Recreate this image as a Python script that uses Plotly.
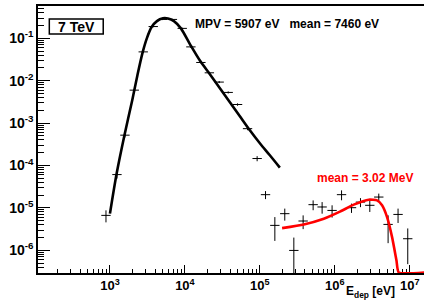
import plotly.graph_objects as go

# ---------------- data ----------------
# low-energy histogram (Landau part)
lo_x = [885, 1240, 1585, 2110, 2780, 3780, 5010, 6810, 9210, 12020, 16340,
        21200, 28650, 37800, 50400, 68500, 92000]
lo_y = [6.65e-6, 6.1e-5, 5.2e-4, 6.0e-3, 0.048, 0.19, 0.28, 0.28, 0.172, 0.063,
        0.027, 0.0154, 9.3e-3, 5.3e-3, 2.75e-3, 7.4e-4, 1.46e-4]
lo_err = [2.1e-6, 1.2e-5, 6e-5, 4e-4, 2.5e-3, 8e-3, 0.01, 0.01, 0.007, 0.003,
          0.0013, 0.0008, 0.0005, 0.0003, 0.00018, 0.00006, 0.00002]

# high-energy histogram
hi_x = [1.19e5, 1.585e5, 2.15e5, 2.84e5, 3.78e5, 5.14e5, 6.77e5, 9.2e5, 1.23e6,
        1.67e6, 2.2e6, 2.93e6, 3.86e6, 5.14e6, 6.98e6, 9.4e6]
hi_y = [2.05e-5, 3.86e-6, 7.3e-6, 9.9e-7, 4.9e-6, 1.19e-5, 1.05e-5, 8.7e-6,
        2.05e-5, 1.01e-5, 1.37e-5, 1.15e-5, 1.8e-5, 4.07e-6, 7.0e-6, 1.87e-6]
hi_err = [4.4e-6, 2.2e-6, 2.3e-6, 1.0e-6, 1.75e-6, 3.1e-6, 3.2e-6, 2.8e-6,
          5.4e-6, 2.5e-6, 3.3e-6, 3.5e-6, 3.7e-6, 2.6e-6, 2.6e-6, 1.4e-6]

# bin half width in decades
bin_half_dec = 0.0625

# black fit curve (Landau)
fit_x = [1000, 1228, 1561, 1983, 2326, 2729, 3113, 3597, 4234, 5090, 5934, 7135,
         8844, 11660, 15850, 21540, 29290, 39810, 54120, 73560, 100000, 135900, 184800]
fit_y = [7.3e-6, 6.44e-5, 5.18e-4, 3.47e-3, 0.01355, 0.0467, 0.1016, 0.185, 0.256,
         0.297, 0.294, 0.256, 0.172, 0.0733, 0.0299, 0.01432, 6.68e-3, 3.12e-3,
         1.455e-3, 6.79e-4, 3.35e-4, 1.74e-4, 8.9e-5]

# red fit curve
red_x = [1.98e5, 3.86e5, 7.13e5, 1.19e6, 1.79e6, 2.84e6, 3.66e6, 4.27e6, 4.98e6,
         5.81e6, 6.65e6, 7.13e6, 1.6e7]
red_y = [3.33e-6, 4.07e-6, 5.56e-6, 8.26e-6, 1.19e-5, 1.56e-5, 1.5e-5, 1.15e-5,
         6.07e-6, 2.04e-6, 5.74e-7, 3.0e-7, 3.0e-7]

# tick labels
x_tick_vals = [1e3, 1e4, 1e5, 1e6, 1e7]
x_tick_text = ["10<sup>3</sup>", "10<sup>4</sup>", "10<sup>5</sup>",
               "10<sup>6</sup>", "10<sup>7</sup>"]
y_tick_vals = [1e-6, 1e-5, 1e-4, 1e-3, 1e-2, 1e-1]
y_tick_text = ["10<sup>-6</sup>", "10<sup>-5</sup>", "10<sup>-4</sup>",
               "10<sup>-3</sup>", "10<sup>-2</sup>", "10<sup>-1</sup>"]

label_box = "7 TeV"
label_landau = "MPV = 5907 eV   mean = 7460 eV"
label_red = "mean = 3.02 MeV"
label_xtitle = "E<sub>dep</sub> [eV]"

# ---------------- figure ----------------
FONT = "Liberation Sans"
fac = 10 ** bin_half_dec


def xerr(xs):
    plus = [x * (fac - 1) for x in xs]
    minus = [x * (1 - 1 / fac) for x in xs]
    return plus, minus


fig = go.Figure()

for xs, ys, es in [(lo_x, lo_y, lo_err), (hi_x, hi_y, hi_err)]:
    p, m = xerr(xs)
    fig.add_trace(go.Scatter(
        x=xs, y=ys, mode="markers",
        marker=dict(size=1, color="black"),
        error_y=dict(type="data", array=es, visible=True, color="black",
                     thickness=1, width=0),
        error_x=dict(type="data", array=p, arrayminus=m, symmetric=False,
                     visible=True, color="black", thickness=1, width=0),
        showlegend=False, hoverinfo="skip"))

fig.add_trace(go.Scatter(x=fit_x, y=fit_y, mode="lines",
                         line=dict(color="black", width=2.6, shape="spline",
                                   smoothing=0.8),
                         showlegend=False, hoverinfo="skip"))
fig.add_trace(go.Scatter(x=red_x, y=red_y, mode="lines",
                         line=dict(color="#ff0000", width=2.6, shape="spline",
                                   smoothing=0.5),
                         showlegend=False, hoverinfo="skip"))

minor_vals = [k * 10 ** d for d in range(-8, 8) for k in range(2, 10)]

fig.update_layout(
    width=428, height=305,
    margin=dict(l=38, r=4, t=6, b=32),
    paper_bgcolor="white", plot_bgcolor="white",
    showlegend=False,
    xaxis=dict(type="log", range=[2.04, 7.19], tickmode="array",
               tickvals=x_tick_vals, ticktext=x_tick_text, automargin=False,
               ticks="inside", ticklen=8, tickwidth=1, tickcolor="black",
               minor=dict(ticks="inside", ticklen=4, tickwidth=1,
                          tickcolor="black", tickmode="array",
                          tickvals=minor_vals, showgrid=False),
               showline=True, linecolor="black", linewidth=1.5, mirror=True,
               showgrid=False, zeroline=False, layer="below traces",
               tickfont=dict(family=FONT, size=13, color="black", weight="bold")),
    yaxis=dict(type="log", range=[-6.537, -0.236], tickmode="array",
               tickvals=y_tick_vals, ticktext=y_tick_text, automargin=False,
               ticks="inside", ticklen=12, tickwidth=1, tickcolor="black",
               minor=dict(ticks="inside", ticklen=6, tickwidth=1,
                          tickcolor="black", tickmode="array",
                          tickvals=minor_vals, showgrid=False),
               showline=True, linecolor="black", linewidth=1.5,
               showgrid=False, zeroline=False,
               tickfont=dict(family=FONT, size=14, color="black", weight="bold")),
)

fig.add_shape(type="rect", xref="paper", yref="paper",
              x0=0.0293, x1=0.169, y0=0.895, y1=0.951,
              line=dict(color="black", width=1.5), fillcolor="white",
              layer="above")

fig.add_annotation(text=label_box, xref="paper", yref="paper", x=0.099, y=0.923,
                   xanchor="center", yanchor="middle", showarrow=False,
                   font=dict(family=FONT, size=14, color="black", weight="bold"))
fig.add_annotation(text=label_landau, xref="paper", yref="paper", x=0.645, y=0.9326,
                   xanchor="center", yanchor="middle", showarrow=False,
                   font=dict(family=FONT, size=12, color="black", weight="bold"))
fig.add_annotation(text=label_red, xref="paper", yref="paper", x=0.848, y=0.357,
                   xanchor="center", yanchor="middle", showarrow=False,
                   font=dict(family=FONT, size=12, color="#ff0000", weight="bold"))
fig.add_annotation(text=label_xtitle, xref="paper", yref="paper", x=0.929, y=-0.071,
                   xanchor="right", yanchor="middle", showarrow=False,
                   font=dict(family=FONT, size=12, color="black", weight="bold"))

fig.write_html("out.html",
               config={"displayModeBar": False},
               post_script="document.body.style.margin='0px';"
                           "document.body.style.padding='0px';"
                           "document.body.style.overflow='hidden';")
